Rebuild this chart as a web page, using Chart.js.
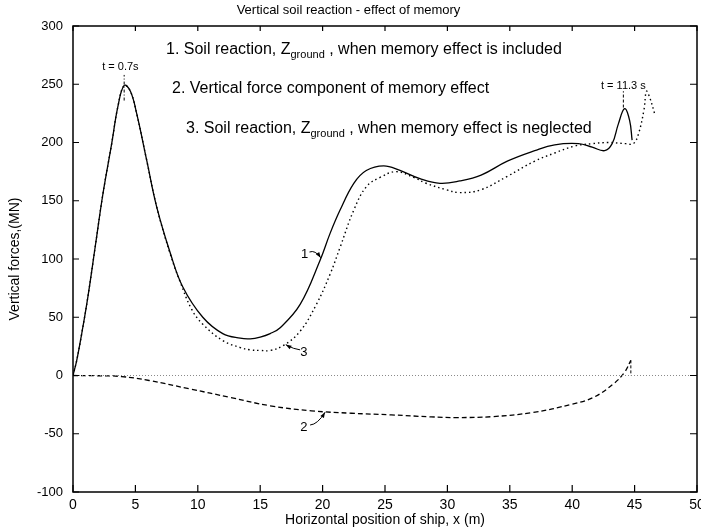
<!DOCTYPE html>
<html>
<head>
<meta charset="utf-8">
<script src="https://cdn.jsdelivr.net/npm/chart.js@4.4.1/dist/chart.umd.min.js"></script>
<style>
  html, body { margin: 0; padding: 0; background: #fff; }
</style>
</head>
<body>
<canvas id="soilChart" width="701" height="531"></canvas>
<script>
/* ========= DATA ========= */

// 1. soil reaction with memory effect (solid)
const posX1 = [0, 0.3, 0.7, 1.2, 1.8, 2.4, 3.1, 3.6, 4.1, 4.6, 5.1, 5.9, 6.7, 7.8, 8.8,
  10.4, 12.0, 13.4, 14.2, 15.0, 15.8, 16.6, 18.2, 19.8, 20.6, 21.4, 22.5, 23.5, 24.9,
  26.2, 27.8, 29.4, 31.0, 32.7, 34.8, 37.0, 38.6, 40.5, 41.6, 42.6, 43.2, 43.7, 44.2,
  44.6, 44.8];
const force1 = [0, 13, 36, 68, 112, 156, 199, 231, 249, 244, 225, 185, 145, 105, 76,
  50, 36, 32, 31.5, 33, 36, 41, 61, 99, 122, 142, 165, 176, 180,
  176, 169, 165, 167, 172, 184, 193, 198, 199, 196, 193, 199, 216, 229,
  219, 202];

// 2. vertical force component of memory effect (dashed)
const posX2 = [0, 2, 3.9, 6.1, 9.4, 12.6, 15.8, 19.1, 22.3, 25.5, 28.7, 30.7, 33.6,
  36.8, 40.0, 41.7, 43.3, 44.2, 44.7];
const force2 = [0, -0.2, -0.9, -4.3, -11.6, -18.8, -26, -30.3, -32.4, -33.8, -35.5,
  -36.1, -35.3, -31.8, -24.6, -18.8, -7.2, 2.9, 13];

// 3. soil reaction, memory effect neglected (dotted)
const posX3 = [0, 0.3, 0.7, 1.2, 1.8, 2.4, 3.1, 3.6, 4.1, 4.6, 5.1, 5.9, 6.7, 7.8, 8.6,
  9.5, 10.4, 12.0, 13.4, 14.2, 15.0, 15.8, 16.9, 18.2, 19.5, 20.6, 21.4, 22.5, 23.5,
  24.6, 25.9, 27.3, 28.3, 29.9, 31.0, 32.7, 34.8, 37.0, 38.6, 40.2, 41.6, 42.9, 44.3,
  44.9, 45.3, 45.75, 45.95, 46.2, 46.6];
const force3 = [0, 13, 36, 68, 112, 156, 199, 231, 249, 244, 225, 185, 145, 104, 80,
  57, 44, 30, 24, 22, 21.5, 21.5, 26, 38, 61, 87, 110, 142, 162,
  170, 175, 170, 165, 159.5, 157, 159.5, 171, 184, 191, 197, 199, 200, 199,
  199, 207, 228, 244, 239, 225];

// reference line and time markers
const zeroX = [0, 50];
const zeroY = [0, 0];
const mark1X = [4.1, 4.1];
const mark1Y = [236, 258];
const mark2X = [44.1, 44.1];
const mark2Y = [230, 244];
const drop2X = [44.7, 44.7];
const drop2Y = [13, 0];

const xRange = [0, 50];
const yRange = [-100, 300];

const pts = (xs, ys) => xs.map((v, i) => ({ x: v, y: ys[i] }));

const FONT = "'Liberation Sans', Arial, Helvetica, sans-serif";

/* ========= FRAME, TICKS, NOTES ========= */

function arrowTo(ctx, x0, y0, cx, cy, x1, y1) {
  ctx.beginPath();
  ctx.moveTo(x0, y0);
  ctx.quadraticCurveTo(cx, cy, x1, y1);
  ctx.stroke();
  const ang = Math.atan2(y1 - cy, x1 - cx);
  ctx.beginPath();
  ctx.moveTo(x1, y1);
  ctx.lineTo(x1 - 6 * Math.cos(ang - 0.35), y1 - 6 * Math.sin(ang - 0.35));
  ctx.lineTo(x1 - 6 * Math.cos(ang + 0.35), y1 - 6 * Math.sin(ang + 0.35));
  ctx.closePath();
  ctx.fill();
}

function noteWithSub(ctx, x, y, before, sub, after) {
  ctx.font = "16px " + FONT;
  ctx.fillText(before, x, y);
  let w = ctx.measureText(before).width;
  ctx.font = "11px " + FONT;
  ctx.fillText(sub, x + w, y + 4);
  w += ctx.measureText(sub).width;
  ctx.font = "16px " + FONT;
  ctx.fillText(after, x + w, y);
}

const framePlugin = {
  id: "frameNotes",
  afterDraw(chart) {
    const { ctx, chartArea: a, scales: { x, y } } = chart;
    ctx.save();
    ctx.strokeStyle = "#000";
    ctx.fillStyle = "#000";

    // box
    ctx.lineWidth = 1.5;
    ctx.strokeRect(a.left, a.top, a.right - a.left, a.bottom - a.top);

    // inward ticks
    ctx.lineWidth = 1.2;
    ctx.beginPath();
    x.ticks.forEach(t => {
      const px = x.getPixelForValue(t.value);
      ctx.moveTo(px, a.bottom); ctx.lineTo(px, a.bottom - 7);
      ctx.moveTo(px, a.top); ctx.lineTo(px, a.top + 5);
    });
    y.ticks.forEach(t => {
      const py = y.getPixelForValue(t.value);
      ctx.moveTo(a.left, py); ctx.lineTo(a.left + 6, py);
      ctx.moveTo(a.right, py); ctx.lineTo(a.right - 7, py);
    });
    ctx.stroke();

    // legend notes
    ctx.textBaseline = "alphabetic";
    ctx.textAlign = "left";
    noteWithSub(ctx, 166, 54, "1. Soil reaction, Z", "ground", " , when memory effect is included");
    ctx.font = "16px " + FONT;
    ctx.fillText("2. Vertical force component of memory effect", 172, 93);
    noteWithSub(ctx, 186, 133, "3. Soil reaction, Z", "ground", " , when memory effect is neglected");

    // time labels
    ctx.font = "11px " + FONT;
    ctx.textAlign = "center";
    ctx.fillText("t = 0.7s", x.getPixelForValue(3.8), y.getPixelForValue(262));
    ctx.fillText("t = 11.3 s", x.getPixelForValue(44.1), y.getPixelForValue(245.5));

    // curve numbers with leaders
    ctx.font = "13px " + FONT;
    ctx.fillText("1", x.getPixelForValue(18.55), y.getPixelForValue(101));
    ctx.fillText("3", x.getPixelForValue(18.5), y.getPixelForValue(16.5));
    ctx.fillText("2", x.getPixelForValue(18.5), y.getPixelForValue(-47.5));
    ctx.lineWidth = 1;
    arrowTo(ctx,
      x.getPixelForValue(18.95), y.getPixelForValue(106),
      x.getPixelForValue(19.4), y.getPixelForValue(108),
      x.getPixelForValue(19.85), y.getPixelForValue(101));
    arrowTo(ctx,
      x.getPixelForValue(18.2), y.getPixelForValue(22),
      x.getPixelForValue(17.7), y.getPixelForValue(22.5),
      x.getPixelForValue(17.05), y.getPixelForValue(26.5));
    arrowTo(ctx,
      x.getPixelForValue(19.0), y.getPixelForValue(-42.5),
      x.getPixelForValue(19.6), y.getPixelForValue(-42),
      x.getPixelForValue(20.2), y.getPixelForValue(-31.5));
    ctx.restore();
  }
};

/* ========= CHART ========= */

const soilCtx = document.getElementById("soilChart");

new Chart(soilCtx, {
  type: "line",
  data: {
    datasets: [
      {
        label: "zero",
        data: pts(zeroX, zeroY),
        borderColor: "#8a8a8a",
        borderWidth: 1,
        borderDash: [1, 2],
        pointRadius: 0
      },
      {
        label: "1",
        data: pts(posX1, force1),
        borderColor: "#000",
        borderWidth: 1.3,
        tension: 0.4,
        pointRadius: 0
      },
      {
        label: "3",
        data: pts(posX3, force3),
        borderColor: "#000",
        borderWidth: 1.4,
        borderDash: [1.5, 3],
        tension: 0.4,
        pointRadius: 0
      },
      {
        label: "2",
        data: pts(posX2, force2),
        borderColor: "#000",
        borderWidth: 1.3,
        borderDash: [5, 3],
        tension: 0.4,
        pointRadius: 0
      },
      {
        label: "mark1",
        data: pts(mark1X, mark1Y),
        borderColor: "#000",
        borderWidth: 1,
        borderDash: [3, 2, 1, 2],
        pointRadius: 0
      },
      {
        label: "mark2",
        data: pts(mark2X, mark2Y),
        borderColor: "#000",
        borderWidth: 1,
        borderDash: [3, 2],
        pointRadius: 0
      },
      {
        label: "drop2",
        data: pts(drop2X, drop2Y),
        borderColor: "#000",
        borderWidth: 1,
        borderDash: [3, 2],
        pointRadius: 0
      }
    ]
  },
  options: {
    responsive: false,
    animation: false,
    layout: { padding: { left: 0, right: 4, top: 0, bottom: 0 } },
    plugins: {
      legend: { display: false },
      tooltip: { enabled: false },
      title: {
        display: true,
        text: "Vertical soil reaction - effect of memory",
        color: "#000",
        font: { family: FONT, size: 13, weight: "normal" },
        padding: { top: 3, bottom: 7.4 }
      }
    },
    scales: {
      x: {
        type: "linear",
        min: xRange[0],
        max: xRange[1],
        grid: { display: false, drawTicks: false },
        border: { display: false },
        ticks: {
          stepSize: 5,
          color: "#000",
          padding: 5,
          maxRotation: 0,
          font: { family: FONT, size: 14 }
        },
        title: {
          display: true,
          text: "Horizontal position of ship, x (m)",
          color: "#000",
          font: { family: FONT, size: 14 },
          padding: { top: 0, bottom: 2 }
        },
        afterFit(scale) {
          scale.height = 39;
          scale.paddingLeft = 0;
          scale.paddingRight = 0;
        }
      },
      y: {
        min: yRange[0],
        max: yRange[1],
        grid: { display: false, drawTicks: false },
        border: { display: false },
        ticks: {
          stepSize: 50,
          color: "#000",
          padding: 10,
          font: { family: FONT, size: 13 }
        },
        title: {
          display: true,
          text: "Vertical forces,(MN)",
          color: "#000",
          font: { family: FONT, size: 14 },
          padding: { top: 6.5, bottom: 0 }
        },
        afterFit(scale) {
          scale.width = 73;
          scale.paddingTop = 0;
          scale.paddingBottom = 0;
        }
      }
    }
  },
  plugins: [framePlugin]
});
</script>
</body>
</html>
